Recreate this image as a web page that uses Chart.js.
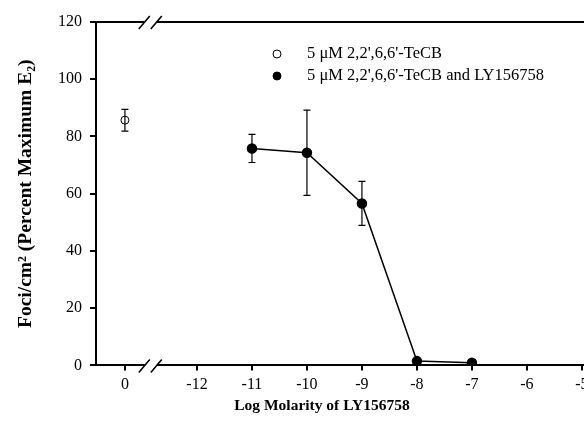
<!DOCTYPE html>
<html lang="en">
<head>
    <meta charset="UTF-8">
    <title>Foci vs Log Molarity of LY156758</title>
    <script src="https://cdn.jsdelivr.net/npm/chart.js"></script>
    <style>
        html, body { margin: 0; padding: 0; background: #fff; overflow: hidden; }
    </style>
</head>
<body>
    <canvas id="myChart" width="644" height="428"></canvas>

    <script>
        // Control: TeCB alone (plotted at the "0" position before the axis break)
        const controlLabel = '5 \u03bcM 2,2\',6,6\'-TeCB';
        const controlMean = [85.7];
        const controlErr = [3.8];

        // TeCB plus LY156758 at increasing log molarity
        const treatedLabel = '5 \u03bcM 2,2\',6,6\'-TeCB and LY156758';
        const logMolarity = [-11, -10, -9, -8, -7];
        const treatedMean = [75.8, 74.3, 56.6, 1.5, 0.9];
        const treatedErr = [4.9, 14.9, 7.7, 0, 0];

        // x axis ticks: the "0" tick sits left of the break
        const xTickValues = [-12, -11, -10, -9, -8, -7, -6, -5];
        const zeroPos = -13.31;
        const breakPos = -12.84;
        const yTicks = [0, 20, 40, 60, 80, 100, 120];

        const serif = "'Liberation Serif', 'Times New Roman', serif";

        // error bars, axis break marks, top frame line and the inset legend
        const extras = {
            id: 'extras',
            afterDatasetsDraw(chart) {
                const ctx = chart.ctx;
                const xs = chart.scales.x, ys = chart.scales.y;
                ctx.save();
                ctx.strokeStyle = '#000';
                ctx.lineWidth = 1.2;
                chart.data.datasets.forEach(ds => {
                    ds.data.forEach((p, i) => {
                        const e = ds.errors[i];
                        if (!e) return;
                        const x = xs.getPixelForValue(p.x);
                        const yt = ys.getPixelForValue(p.y + e);
                        const yb = ys.getPixelForValue(p.y - e);
                        ctx.beginPath();
                        ctx.moveTo(x, yt); ctx.lineTo(x, yb);
                        ctx.moveTo(x - 3.5, yt); ctx.lineTo(x + 3.5, yt);
                        ctx.moveTo(x - 3.5, yb); ctx.lineTo(x + 3.5, yb);
                        ctx.stroke();
                    });
                });
                ctx.restore();
            },
            afterDraw(chart) {
                const ctx = chart.ctx;
                const area = chart.chartArea;
                const xs = chart.scales.x;
                const bx = xs.getPixelForValue(breakPos);
                ctx.save();
                ctx.strokeStyle = '#000';
                ctx.lineWidth = 2;
                // top frame
                ctx.beginPath();
                ctx.moveTo(area.left - 1, area.top);
                ctx.lineTo(area.right, area.top);
                ctx.stroke();
                // break marks on top and bottom axes
                [area.top, area.bottom].forEach(y => {
                    ctx.fillStyle = '#fff';
                    ctx.fillRect(bx - 6, y - 3, 12, 6);
                    ctx.lineWidth = 1.6;
                    ctx.beginPath();
                    ctx.moveTo(bx - 12, y + 7); ctx.lineTo(bx - 1, y - 6);
                    ctx.moveTo(bx + 0, y + 7); ctx.lineTo(bx + 11, y - 6);
                    ctx.stroke();
                });
                // legend
                const lx = 277, ty = [54, 76];
                ctx.font = '16.5px ' + serif;
                ctx.textBaseline = 'middle';
                ctx.fillStyle = '#000';
                chart.data.datasets.forEach((ds, i) => {
                    ctx.beginPath();
                    ctx.arc(lx, ty[i], 4, 0, Math.PI * 2);
                    ctx.fillStyle = ds.pointBackgroundColor;
                    ctx.fill();
                    ctx.lineWidth = 1;
                    ctx.stroke();
                    ctx.fillStyle = '#000';
                    ctx.fillText(ds.label, 307, ty[i]);
                });
                ctx.restore();
            }
        };

        const data = {
            datasets: [{
                label: controlLabel,
                data: controlMean.map(v => ({ x: zeroPos, y: v })),
                errors: controlErr,
                showLine: false,
                pointRadius: 4,
                pointBackgroundColor: '#fff',
                pointBorderColor: '#000',
                pointBorderWidth: 1
            }, {
                label: treatedLabel,
                data: logMolarity.map((m, i) => ({ x: m, y: treatedMean[i] })),
                errors: treatedErr,
                showLine: true,
                borderColor: '#000',
                borderWidth: 1.5,
                pointRadius: 4.5,
                pointBackgroundColor: '#000',
                pointBorderColor: '#000'
            }]
        };

        const config = {
            type: 'scatter',
            data: data,
            options: {
                responsive: false,
                animation: false,
                layout: { padding: { top: 22, right: 0, left: 0, bottom: 0 } },
                plugins: {
                    legend: { display: false },
                    tooltip: { enabled: false },
                    title: {
                        display: true,
                        position: 'bottom',
                        text: 'Log Molarity of LY156758',
                        color: '#000',
                        font: { family: serif, size: 15.5, weight: 'bold', lineHeight: 1.2 },
                        padding: { top: 0, bottom: 13 }
                    }
                },
                scales: {
                    x: {
                        type: 'linear',
                        min: -13.836,
                        max: -3.98,
                        afterFit: s => { s.height = 31; },
                        afterBuildTicks: s => {
                            s.ticks = [zeroPos].concat(xTickValues).map(v => ({ value: v }));
                        },
                        ticks: {
                            color: '#000',
                            padding: 5,
                            maxRotation: 0,
                            font: { family: serif, size: 16 },
                            callback: v => (v === zeroPos ? '0' : String(v))
                        },
                        grid: { drawOnChartArea: false, drawTicks: true, tickLength: 5, color: '#000', lineWidth: 2 },
                        border: { display: true, color: '#000', width: 2 }
                    },
                    y: {
                        min: 0,
                        max: 120,
                        afterFit: s => { s.width = 96; },
                        afterBuildTicks: s => { s.ticks = yTicks.map(v => ({ value: v })); },
                        ticks: {
                            color: '#000',
                            padding: 8,
                            font: { family: serif, size: 16 }
                        },
                        grid: { drawOnChartArea: false, drawTicks: true, tickLength: 6, color: '#000', lineWidth: 2 },
                        border: { display: true, color: '#000', width: 2 },
                        title: {
                            display: true,
                            text: 'Foci/cm\u00b2 (Percent Maximum E\u2082)',
                            color: '#000',
                            font: { family: serif, size: 19.5, weight: 'bold' },
                            padding: { top: 14, bottom: 0 }
                        }
                    }
                }
            },
            plugins: [extras]
        };

        var myChart = new Chart(
            document.getElementById('myChart'),
            config
        );
    </script>
</body>
</html>
